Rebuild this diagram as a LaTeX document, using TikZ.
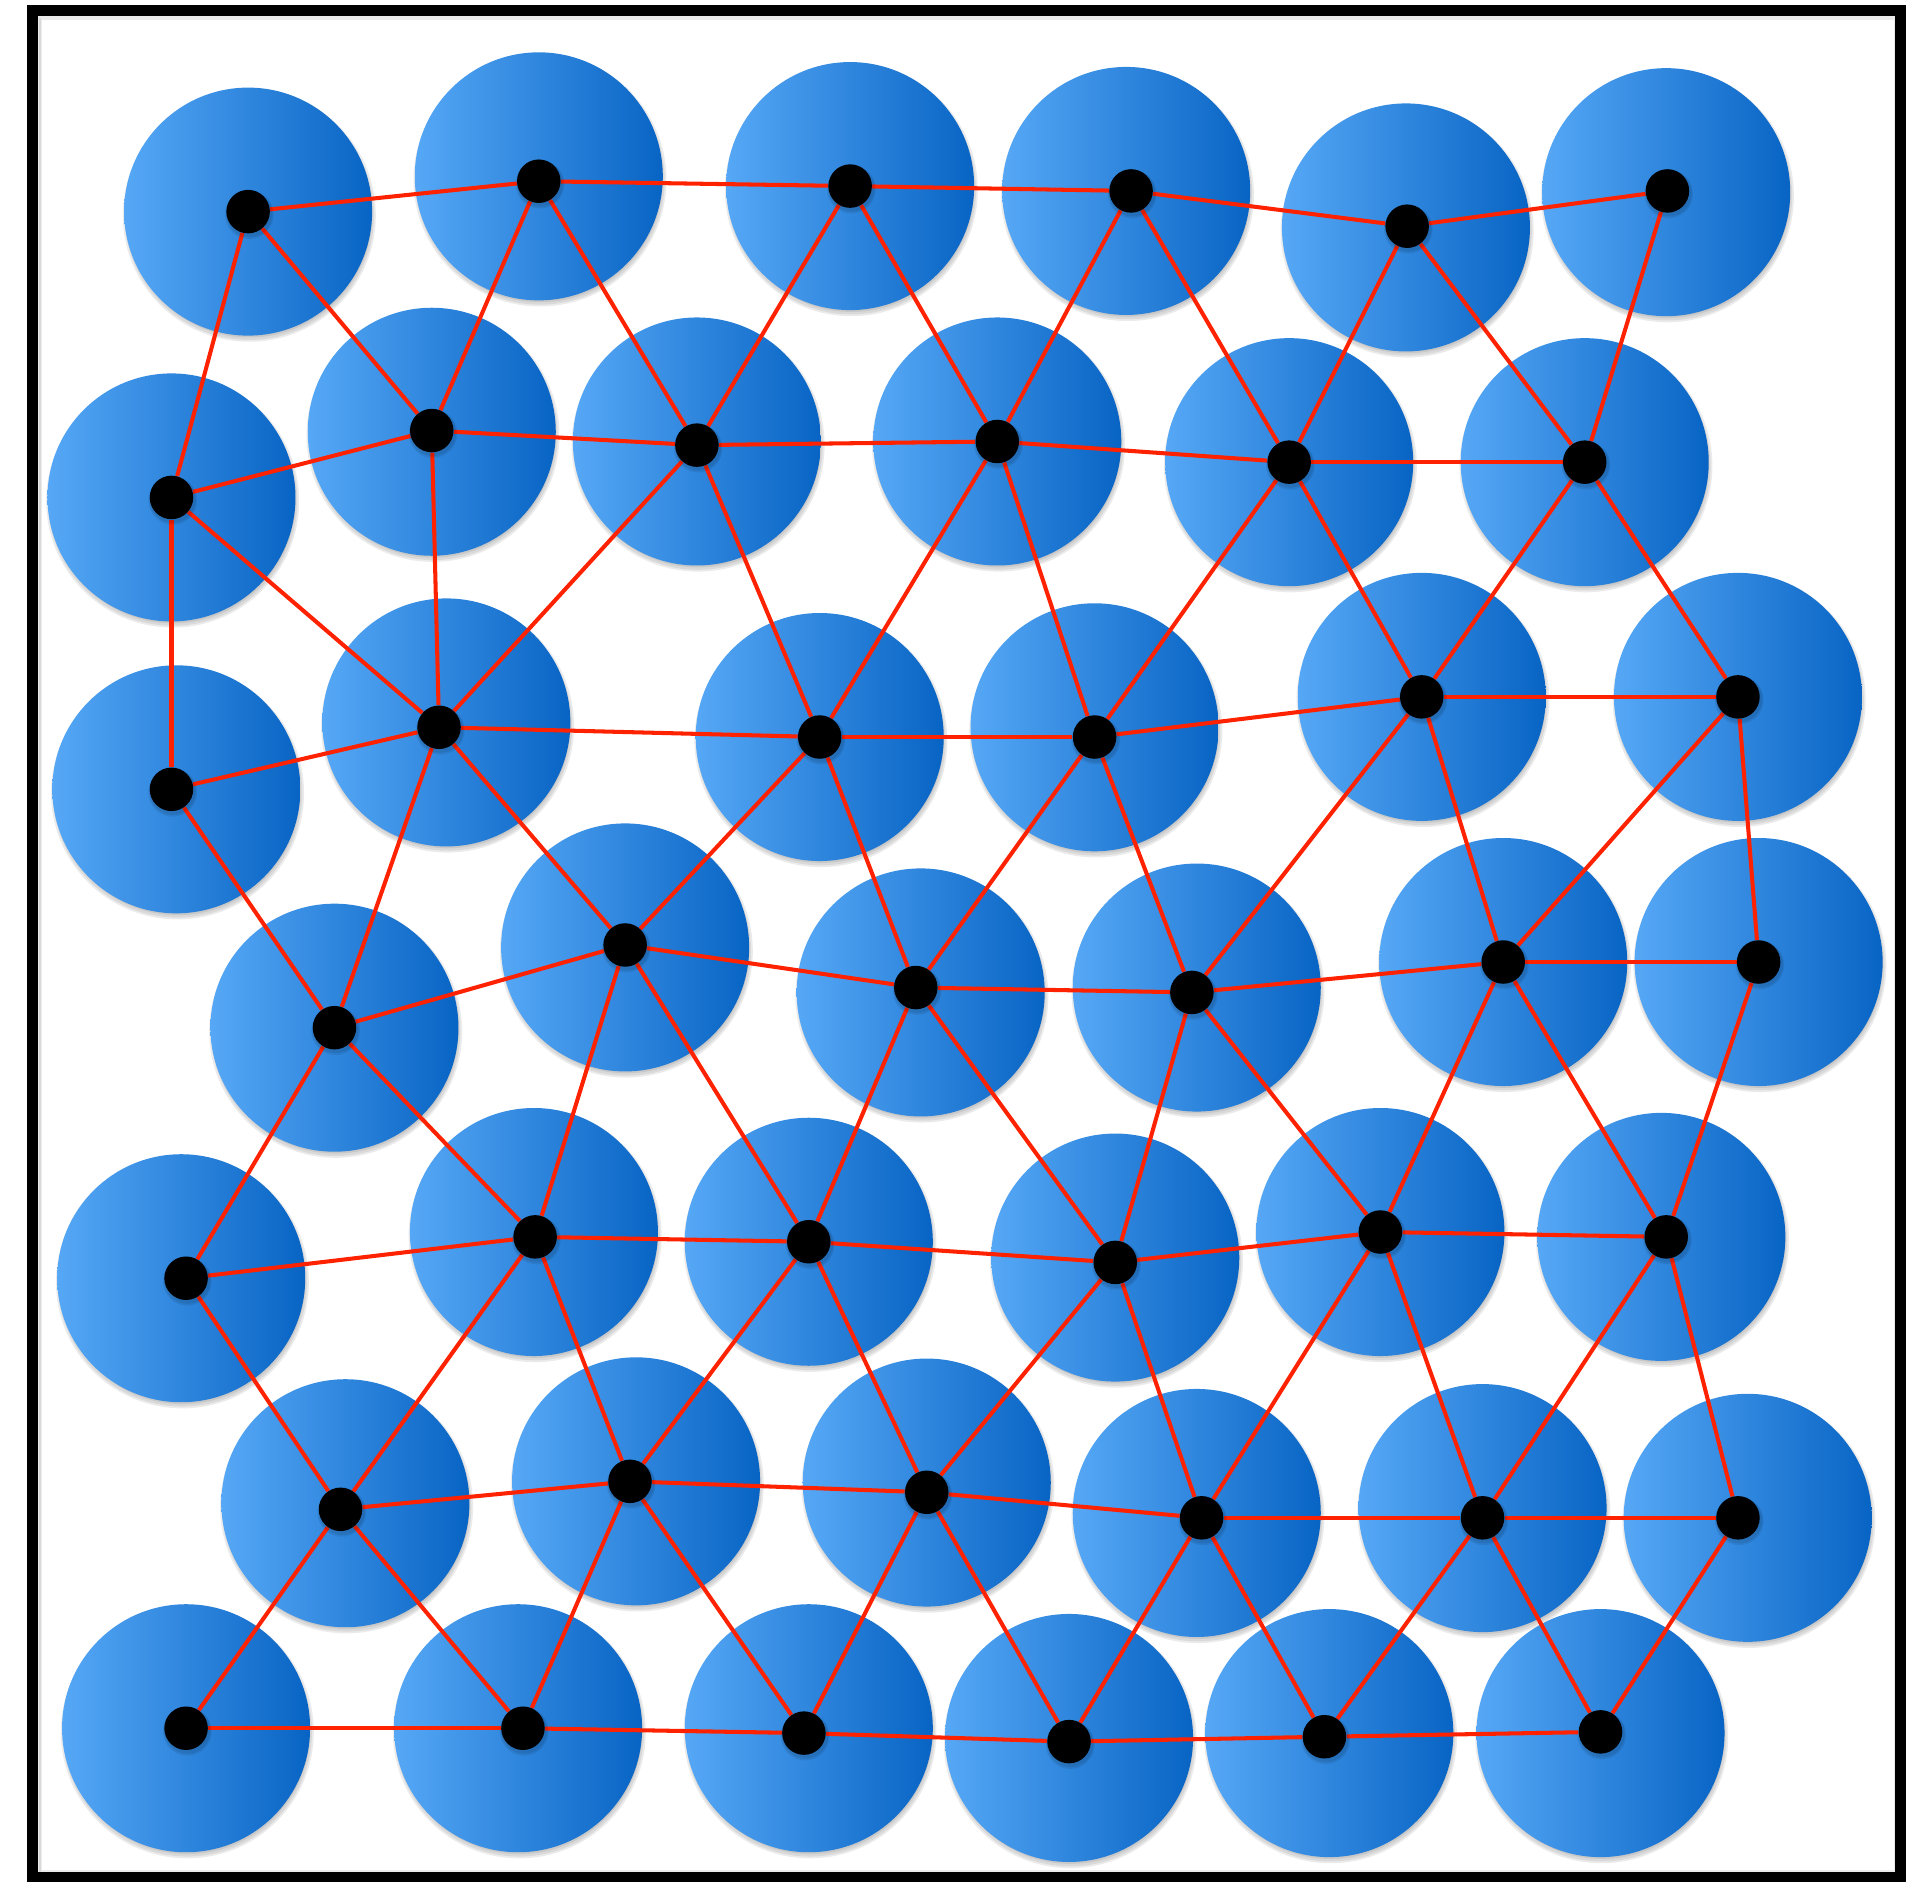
\documentclass[tikz,border=0pt]{standalone}
\definecolor{cl}{RGB}{86,168,246}
\definecolor{cr}{RGB}{8,100,196}
\definecolor{edgered}{RGB}{255,34,0}
\pgfdeclarelayer{bg}
\pgfdeclarelayer{mid}
\pgfsetlayers{bg,mid,main}
\begin{document}
\begin{tikzpicture}[x=0.024324cm,y=-0.024324cm,
  disc/.style={circle,minimum size=4.96cm,inner sep=0pt,left color=cl,right color=cr},
  dot/.style={circle,fill=black,minimum size=0.87cm,inner sep=0pt},
  softshadow/.style={fill=black,opacity=0.08},
  link/.style={draw=edgered,line width=2.3pt},
  frame/.style={draw=black,line width=6.2pt},
  frameshadow/.style={draw=black,opacity=0.08,line width=1.5pt}]
\useasboundingbox (0,0) rectangle (1568,1547);
\draw[frameshadow] (32.5,14) rectangle (1559,1540);
\draw[frameshadow] (33.5,15.5) rectangle (1558,1539);
\draw[frame] (26.7,8.6) rectangle (1563,1543.3);
\begin{pgfonlayer}{bg}
\foreach \n/\x/\y in {A1/204/174,A2/443/145,A3/699/153,A4/926/157,A5/1156/187,A6/1370/158,
  B1/141/409,B2/355/355,B3/573/363,B4/820/363,B5/1060/380,B6/1303/380,
  C1/145/649,C2/367/594,C3/674/606,C4/900/598,C5/1169/573,C6/1429/573,
  D1/275/845,D2/514/779,D3/757/816,D4/984/812,D5/1236/791,D6/1446/791,
  E1/149/1051,E2/439/1013,E3/665/1021,E4/917/1034,E5/1135/1013,E6/1366/1017,
  F1/284/1236,F2/523/1218,F3/762/1219,F4/984/1244,F5/1219/1240,F6/1437/1248,
  G1/153/1421,G2/426/1421,G3/665/1421,G4/879/1429,G5/1093/1425,G6/1316/1425}
  {\fill[softshadow] (\x+1,\y+3) circle[radius=104];
   \fill[softshadow] (\x+1,\y+3) circle[radius=102.5];
   \fill[softshadow] (\x+1,\y+2.5) circle[radius=101];
   \node[disc] (c\n) at (\x,\y) {};}
\end{pgfonlayer}
\foreach \n/\x/\y in {A1/204/174,A2/443/149,A3/699/153,A4/930/157,A5/1157/186,A6/1371/157,
  B1/141/409,B2/355/354,B3/573/366,B4/820/363,B5/1060/380,B6/1303/380,
  C1/141/649,C2/361/598,C3/674/606,C4/900/606,C5/1169/573,C6/1429/573,
  D1/275/845,D2/514/777,D3/753/812,D4/980/816,D5/1236/791,D6/1446/791,
  E1/153/1051,E2/440/1017,E3/665/1021,E4/917/1038,E5/1135/1013,E6/1370/1017,
  F1/280/1241,F2/518/1218,F3/762/1227,F4/988/1248,F5/1219/1248,F6/1429/1248,
  G1/153/1421,G2/430/1421,G3/661/1425,G4/879/1432,G5/1089/1428,G6/1316/1424}
  {\fill[softshadow] (\x+1,\y+2.5) circle[radius=20];
   \fill[softshadow] (\x+1,\y+2) circle[radius=19];
   \node[dot] (\n) at (\x,\y) {};}
\begin{pgfonlayer}{mid}
\foreach \r in {A,B,C,D,E,F,G}{
  \foreach \i [evaluate=\i as \j using int(\i+1)] in {1,...,5}{
    \draw[link] (\r\i) -- (\r\j);}}
\foreach \a/\b in {A1/B1,A1/B2,A2/B2,A2/B3,A3/B3,A3/B4,A4/B4,A4/B5,A5/B5,A5/B6,A6/B6,
  B1/C1,B1/C2,B2/C2,B3/C2,B3/C3,B4/C3,B4/C4,B5/C4,B5/C5,B6/C5,B6/C6,
  C1/D1,C2/D1,C2/D2,C3/D2,C3/D3,C4/D3,C4/D4,C5/D4,C5/D5,C6/D5,C6/D6,
  D1/E1,D1/E2,D2/E2,D2/E3,D3/E3,D3/E4,D4/E4,D4/E5,D5/E5,D5/E6,D6/E6,
  E1/F1,E2/F1,E2/F2,E3/F2,E3/F3,E4/F3,E4/F4,E5/F4,E5/F5,E6/F5,E6/F6,
  F1/G1,F1/G2,F2/G2,F2/G3,F3/G3,F3/G4,F4/G4,F4/G5,F5/G5,F5/G6,F6/G6}
  {\draw[link] (\a) -- (\b);}
\end{pgfonlayer}
\end{tikzpicture}
\end{document}
